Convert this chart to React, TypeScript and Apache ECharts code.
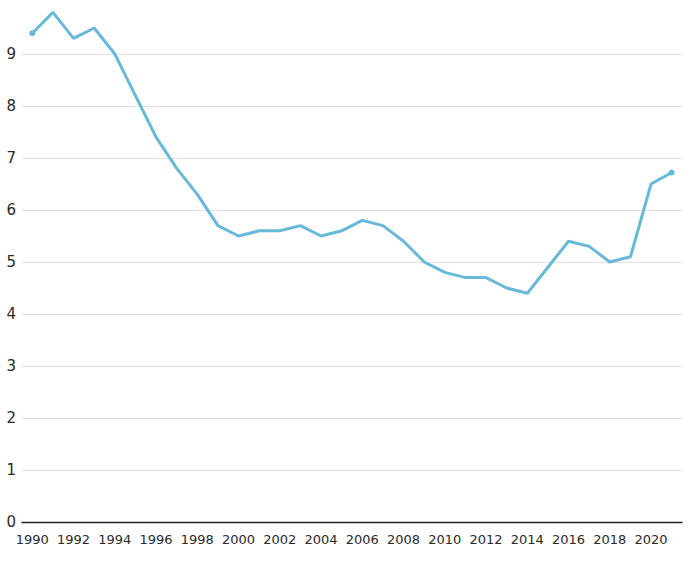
import React, { useEffect, useRef } from "react";
import * as echarts from "echarts";

const years: string[] = [
  "1990", "1991", "1992", "1993", "1994", "1995", "1996", "1997", "1998", "1999",
  "2000", "2001", "2002", "2003", "2004", "2005", "2006", "2007", "2008", "2009",
  "2010", "2011", "2012", "2013", "2014", "2015", "2016", "2017", "2018", "2019",
  "2020", "2021",
];
const values: number[] = [
  9.4, 9.8, 9.3, 9.5, 9.0, 8.2, 7.4, 6.8, 6.3, 5.7,
  5.5, 5.6, 5.6, 5.7, 5.5, 5.6, 5.8, 5.7, 5.4, 5.0,
  4.8, 4.7, 4.7, 4.5, 4.4, 4.9, 5.4, 5.3, 5.0, 5.1,
  6.5, 6.72,
];

const LINE_COLOR = "#68b9d9";
const FONT = "'DejaVu Sans', 'Open Sans', sans-serif";

export default function App() {
  const ref = useRef<HTMLDivElement>(null);
  useEffect(() => {
    if (!ref.current) return;
    const chart = echarts.init(ref.current, undefined, { renderer: "svg" });
    const last = values.length - 1;
    chart.setOption({
      animation: false,
      grid: { left: 22, right: 8, top: 2, bottom: 55, containLabel: false },
      xAxis: {
        type: "category",
        data: years,
        boundaryGap: true,
        axisLine: { lineStyle: { color: "#222", width: 1.3 } },
        axisTick: { alignWithLabel: true, interval: 1, length: 5, lineStyle: { color: "#222" } },
        axisLabel: { interval: 1, color: "#2a2a2a", fontSize: 13, fontFamily: FONT, margin: 11 },
        splitLine: { show: false },
      },
      yAxis: {
        type: "value",
        min: 0,
        max: 10,
        interval: 1,
        axisLine: { show: false },
        axisTick: { show: false },
        axisLabel: {
          color: "#2a2a2a",
          fontSize: 15,
          fontFamily: FONT,
          margin: 6,
          formatter: (v: number) => (v >= 10 ? "" : String(v)),
        },
        splitLine: {
          lineStyle: { color: "#e2e2e2", width: 1 },
          showMaxLine: false,
        },
      },
      series: [
        {
          type: "line",
          data: values.map((v, i) =>
            i === 0 || i === last
              ? { value: v, symbol: "circle", symbolSize: 6 }
              : { value: v, symbol: "none" }
          ),
          showSymbol: true,
          lineStyle: { color: LINE_COLOR, width: 3 },
          itemStyle: { color: LINE_COLOR },
        },
      ],
    });
    return () => chart.dispose();
  }, []);
  return (
    <div
      ref={ref}
      style={{ position: "absolute", left: 0, top: 0, width: 690, height: 577, background: "#fff" }}
    />
  );
}
